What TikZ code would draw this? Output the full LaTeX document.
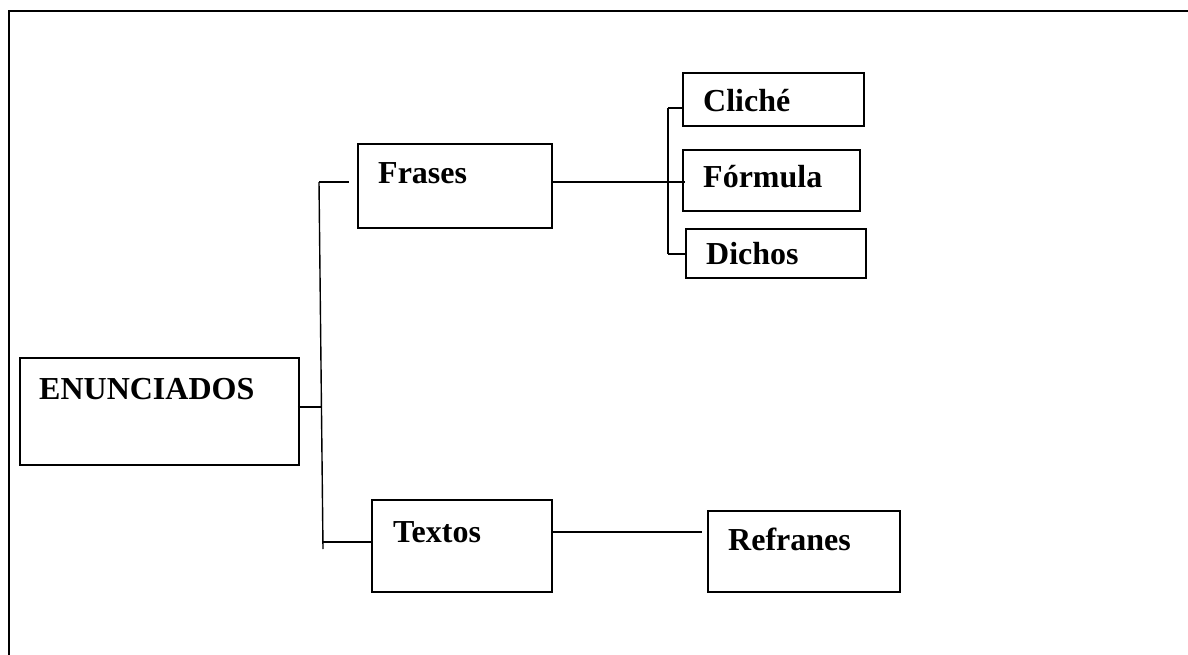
\documentclass[tikz,border=0pt]{standalone}
\usepackage{fontspec}
\setmainfont{Liberation Serif}
\begin{document}
\begin{tikzpicture}[x=1pt,y=-1pt,
  box/.style={draw,line width=1.8pt,rectangle,inner sep=0pt,anchor=north west},
  lbl/.style={anchor=base west,inner sep=0pt,font=\fontsize{32}{38}\selectfont\bfseries},
  link/.style={line width=1.4pt},
  frame/.style={line width=2.4pt}]
\useasboundingbox (0,0) rectangle (1188,655);
% page frame (left and top rules only)
\draw[frame] (9,656) -- (9,11) -- (1189,11);

% boxes
\node[box,minimum width=279pt,minimum height=107pt] (enun) at (19,357) {};
\node[box,minimum width=194pt,minimum height=84pt] (frases) at (357,143) {};
\node[box,minimum width=180pt,minimum height=92pt] (textos) at (371,499) {};
\node[box,minimum width=192pt,minimum height=81pt] (refranes) at (707,510) {};
\node[box,minimum width=181pt,minimum height=53pt] (cliche) at (682,72) {};
\node[box,minimum width=177pt,minimum height=61pt] (formula) at (682,149) {};
\node[box,minimum width=180pt,minimum height=49pt] (dichos) at (685,228) {};

% labels
\node[lbl] (tenun) at (39,399) {ENUNCIADOS};
\node[lbl] (tfrases) at (378,184) {Frases};
\node[lbl] (ttextos) at (393,542) {Textos};
\node[lbl] (trefranes) at (728,550) {Refranes};
\node[lbl] (tcliche) at (703,112) {Cliché};
\node[lbl] (tformula) at (703,188) {Fórmula};
\node[lbl] (tdichos) at (706,264) {Dichos};

% left bracket
\coordinate (s1) at (319,182);
\coordinate (s0) at (321,407);
\coordinate (s3) at (323,542);
\coordinate (s4) at (323,549);
\draw[link] (s1) -- (s4);
\draw[link,shorten <=-2pt] (enun.east |- s0) -- (s0);
\draw[link,shorten >=8pt] (s1) -- (frases.west |- s1);
\draw[link] (s3) -- (textos.west |- s3);

% right bracket
\coordinate (c1) at (668,108);
\coordinate (f1) at (668,182);
\coordinate (c3) at (668,254);
\draw[link] (c1) -- (c3);
\draw[link] (frases.east |- f1) -- (f1);
\draw[link] (c1) -- (cliche.west |- c1);
\draw[link] (f1) -- ([xshift=3pt]formula.west |- f1);
\draw[link] (c3) -- (dichos.west |- c3);

% textos to refranes
\coordinate (r1) at (600,532);
\draw[link,shorten >=5pt] (textos.east |- r1) -- (refranes.west |- r1);
\end{tikzpicture}
\end{document}
